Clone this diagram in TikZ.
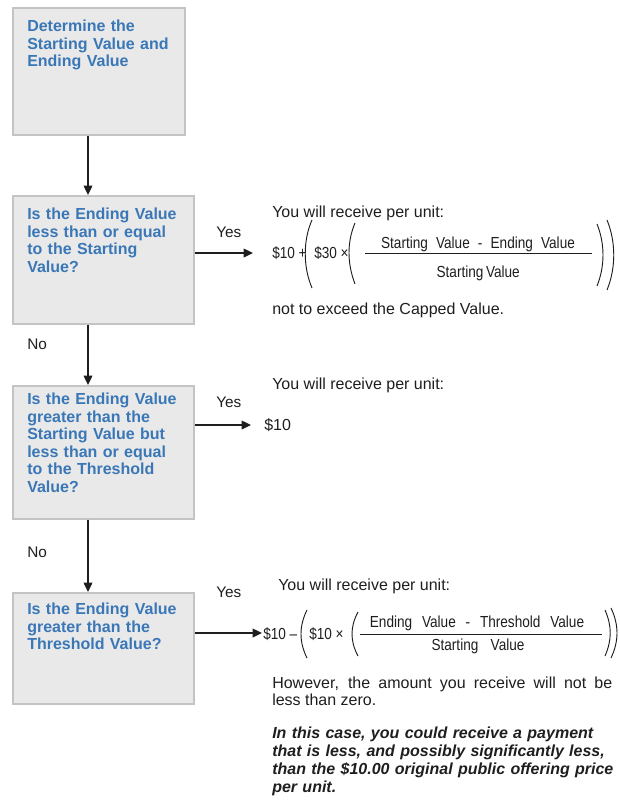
\documentclass[tikz,border=0pt]{standalone}
\usepackage{fontspec}
\usepackage{graphicx}
\setmainfont{Liberation Sans}
\usetikzlibrary{arrows.meta}
\definecolor{boxfill}{HTML}{E9E9E9}
\definecolor{boxline}{HTML}{C4C4C4}
\definecolor{qblue}{HTML}{3A77B7}
\definecolor{ink}{HTML}{1E1E1E}
\newcommand{\fx}[1]{\scalebox{0.85}[1]{#1}}
\begin{document}
\begin{tikzpicture}[x=0.75pt,y=-0.75pt,
  qbox/.style={draw=boxline, fill=boxfill, line width=1.2pt, inner sep=0pt, anchor=north west},
  qtext/.style={anchor=base west, inner sep=0pt, text width=132pt, align=left,
                font=\fontsize{12}{13.2}\selectfont\bfseries, text=qblue},
  body/.style={anchor=base west, inner sep=0pt, font=\fontsize{12}{13.2}\selectfont, text=ink},
  lbl/.style={anchor=base west, inner sep=0pt, font=\fontsize{11.5}{13}\selectfont, text=ink},
  frm/.style={anchor=base west, inner sep=0pt, font=\fontsize{12}{13}\selectfont, text=ink},
  frc/.style={anchor=base, inner sep=0pt, font=\fontsize{12}{13}\selectfont, text=ink},
  flow/.style={line width=1pt, draw=ink, -{Triangle[length=7pt,width=6.5pt]}},
  paren/.style={line width=0.7pt, draw=ink},
]
\useasboundingbox (0,0) rectangle (619,807);

% boxes
\node[qbox, minimum width=129pt, minimum height=95.25pt] (b1) at (12,7) {};
\node[qbox, minimum width=135.75pt, minimum height=96pt] (b2) at (12,195) {};
\node[qbox, minimum width=135.75pt, minimum height=99.75pt] (b3) at (12,385) {};
\node[qbox, minimum width=135.75pt, minimum height=83.25pt] (b4) at (12,592) {};

\node[qtext] (t1) at (27,31.5) {Determine the\\Starting Value and\\Ending Value};
\node[qtext] (t2) at (27,219.5) {Is the Ending Value\\less than or equal\\to the Starting\\Value?};
\node[qtext] (t3) at (27,404.5) {Is the Ending Value\\greater than the\\Starting Value but\\less than or equal\\to the Threshold\\Value?};
\node[qtext] (t4) at (27,614.5) {Is the Ending Value\\greater than the\\Threshold Value?};

% vertical connectors
\coordinate (vx) at (88,0);
\draw[flow] (b1.south -| vx) -- (b2.north -| vx);
\draw[flow] (b2.south -| vx) -- (b3.north -| vx);
\draw[flow] (b3.south -| vx) -- (b4.north -| vx);
\node[lbl] (no1) at (27,349) {No};
\node[lbl] (no2) at (27,557) {No};

% yes connectors
\coordinate (e1) at (253,253);
\coordinate (e2) at (251,425);
\coordinate (e3) at (262,633);
\draw[flow] (b2.east |- e1) -- (e1);
\draw[flow] (b3.east |- e2) -- (e2);
\draw[flow] (b4.east |- e3) -- (e3);
\node[lbl] (y1) at (216,237.5) {Yes};
\node[lbl] (y2) at (216,407) {Yes};
\node[lbl] (y3) at (216,597) {Yes};

% result 1
\node[body] (r1a) at (272,217) {You will receive per unit:};
\node[frm] (r1f) at (272,258) {\fx{\$10 +}};
\node[frm] (r1m) at (314,258) {\fx{\$30 ×}};
\node[frc] (r1n) at (478,248) {\fx{\makebox[171pt][s]{Starting Value - Ending Value}}};
\node[frc] (r1d) at (478,277) {\fx{\makebox[73pt][s]{Starting Value}}};
\draw[line width=0.7pt, draw=ink] (365,253) -- (592,253);
\draw[paren] (312,220) .. controls (303,240) and (303,267) .. (312,288);
\draw[paren] (355,223) .. controls (347,242) and (347,263) .. (355,284);
\draw[paren] (597,224) .. controls (605,244) and (605,266) .. (597,286);
\draw[paren] (607,220) .. controls (616,242) and (616,268) .. (607,290);
\node[body] (r1c) at (272,314) {not to exceed the Capped Value.};

% result 2
\node[body] (r2a) at (272,389) {You will receive per unit:};
\node[body] (r2b) at (264,430) {\$10};

% result 3
\node[body] (r3a) at (278,590) {You will receive per unit:};
\node[frm] (r3f) at (263,639) {\fx{\$10 –}};
\node[frm] (r3m) at (309,639) {\fx{\$10 ×}};
\node[frc] (r3n) at (477,627) {\fx{\makebox[189pt][s]{Ending Value - Threshold Value}}};
\node[frc] (r3d) at (478,650) {\fx{\makebox[82pt][s]{Starting Value}}};
\draw[line width=0.7pt, draw=ink] (360,634) -- (602,634);
\draw[paren] (307,610) .. controls (299,626) and (299,642) .. (307,658);
\draw[paren] (358,612) .. controls (350,627) and (350,641) .. (358,656);
\draw[paren] (605,610) .. controls (612,626) and (612,640) .. (605,656);
\draw[paren] (611,608) .. controls (619,625) and (619,641) .. (611,658);

\node[body] (r3h) at (272,688) {\makebox[255pt][s]{However, the amount you receive will not be}};
\node[body] (r3z) at (272,705.5) {less than zero.};
\node[body, text width=262pt, align=left, font=\fontsize{12}{13.5}\selectfont\bfseries\itshape] (r3b) at (272,738)
  {In this case, you could receive a payment\\that is less, and possibly significantly less,\\than the \$10.00 original public offering price\\per unit.};
\end{tikzpicture}
\end{document}
